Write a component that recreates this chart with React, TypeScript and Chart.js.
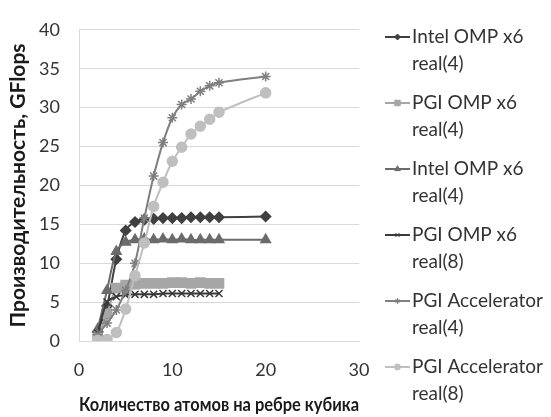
import React, { useEffect, useRef } from "react";
import { Chart, registerables } from "chart.js";
import { drawPoint } from "chart.js/helpers";

Chart.register(...registerables);

const sizesLong = [2, 3, 4, 5, 6, 7, 8, 9, 10, 11, 12, 13, 14, 15, 20];
const sizesShort = [2, 3, 4, 5, 6, 7, 8, 9, 10, 11, 12, 13, 14, 15];

const intelOmpR4 = [1.2, 4.5, 10.5, 14.2, 15.3, 15.6, 15.7, 15.8, 15.8, 15.8, 15.9, 15.9, 15.9, 15.9, 16.0];
const pgiOmpR4 = [0.5, 3.5, 6.8, 7.2, 7.3, 7.4, 7.4, 7.4, 7.5, 7.5, 7.4, 7.5, 7.4, 7.4];
const intelOmpR4b = [1.5, 6.5, 11.5, 12.7, 13.0, 13.1, 13.0, 13.1, 13.0, 13.1, 13.0, 13.0, 13.0, 13.0, 13.0];
const pgiOmpR8 = [1.0, 5.0, 5.7, 5.9, 6.0, 6.0, 6.0, 6.1, 6.1, 6.1, 6.1, 6.1, 6.1, 6.1];
const pgiAccR4 = [0.8, 2.3, 4.0, 6.5, 10.0, 15.8, 21.2, 25.5, 28.7, 30.4, 31.1, 32.1, 32.8, 33.2, 34.0];
const pgiAccR8 = [0.1, 0.2, 1.1, 4.1, 8.4, 12.6, 17.3, 20.4, 23.1, 24.9, 26.6, 27.6, 28.5, 29.4, 31.9];

const legendLines = [
  ["Intel OMP x6", "real(4)"],
  ["PGI OMP x6", "real(4)"],
  ["Intel OMP x6", "real(4)"],
  ["PGI OMP x6", "real(8)"],
  ["PGI Accelerator", "real(4)"],
  ["PGI Accelerator", "real(8)"],
];

const yTicks = [0, 5, 10, 15, 20, 25, 30, 35, 40];
const xTicks = [0, 10, 20, 30];

const yTitle = "Производительность, GFlops";
const xTitle = "Количество атомов на ребре кубика";

const FONT = "Lato, 'Open Sans', sans-serif";

function pts(xs: number[], ys: number[]) {
  return ys.map((y, i) => ({ x: xs[i], y }));
}

const sideLegend = {
  id: "sideLegend",
  afterDraw(chart: any) {
    const { ctx, chartArea } = chart;
    const x0 = chartArea.right + 26;
    chart.data.datasets.forEach((ds: any, i: number) => {
      const yc = 37 + 66 * i;
      ctx.save();
      ctx.strokeStyle = ds.borderColor;
      ctx.lineWidth = 2;
      ctx.beginPath();
      ctx.moveTo(x0, yc);
      ctx.lineTo(x0 + 25, yc);
      ctx.stroke();
      ctx.fillStyle = ds.pointBackgroundColor;
      ctx.strokeStyle = ds.pointBorderColor;
      ctx.lineWidth = 1;
      drawPoint(ctx, { pointStyle: ds.pointStyle, radius: ds.pointRadius * 0.6, rotation: 0, borderWidth: 1 } as any, x0 + 12.5, yc);
      ctx.fillStyle = "#333333";
      ctx.font = `19px ${FONT}`;
      ctx.textAlign = "left";
      ctx.textBaseline = "middle";
      const lines = legendLines[i];
      lines.forEach((t, k) => ctx.fillText(t, x0 + 27, yc + k * 26.5));
      ctx.restore();
    });
  },
};

export default function App() {
  const ref = useRef<HTMLCanvasElement>(null);
  useEffect(() => {
    const mk = (label: string, data: any, color: string, style: string, r: number, order: number) => ({
      label,
      data,
      borderColor: color,
      backgroundColor: color,
      pointBackgroundColor: color,
      pointBorderColor: color,
      pointStyle: style,
      pointRadius: r,
      pointBorderWidth: 1.5,
      borderWidth: 2,
      tension: 0.3,
      order,
    });
    const chart = new Chart(ref.current as HTMLCanvasElement, {
      type: "line",
      data: {
        datasets: [
          mk("Intel OMP x6 real(4)", pts(sizesLong, intelOmpR4), "#404040", "rectRot", 5, 5),
          mk("PGI OMP x6 real(4)", pts(sizesShort, pgiOmpR4), "#a6a6a6", "rect", 6.5, 4),
          mk("Intel OMP x6 real(4)", pts(sizesLong, intelOmpR4b), "#6b6b6b", "triangle", 5.5, 3),
          mk("PGI OMP x6 real(8)", pts(sizesShort, pgiOmpR8), "#3a3a3a", "crossRot", 5, 2),
          mk("PGI Accelerator real(4)", pts(sizesLong, pgiAccR4), "#7f7f7f", "star", 5, 1),
          mk("PGI Accelerator real(8)", pts(sizesLong, pgiAccR8), "#bfbfbf", "circle", 5, 0),
        ] as any,
      },
      options: {
        animation: false,
        responsive: true,
        maintainAspectRatio: false,
        layout: { padding: { left: 0, right: 192, top: 15, bottom: 0 } },
        plugins: { legend: { display: false }, tooltip: { enabled: false } },
        scales: {
          x: {
            type: "linear",
            min: 0,
            max: 30,
            afterFit: (s: any) => { s.height = 76; },
            afterBuildTicks: (s: any) => { s.ticks = xTicks.map((v) => ({ value: v })); },
            grid: { display: false, drawTicks: false },
            border: { display: true, color: "#d9d9d9", width: 1 },
            ticks: { padding: 18, color: "#333333", font: { family: FONT, size: 18, lineHeight: 1.2 } },
            title: {
              display: true,
              text: xTitle,
              color: "#1a1a1a",
              padding: { top: 0, bottom: 1 },
              font: { family: FONT, size: 19.5, weight: "bold", lineHeight: 1.2 },
            },
          },
          y: {
            type: "linear",
            min: 0,
            max: 40,
            afterFit: (s: any) => { s.width = 79; },
            afterBuildTicks: (s: any) => { s.ticks = yTicks.map((v) => ({ value: v })); },
            grid: { color: "#d9d9d9", lineWidth: 1, drawTicks: false },
            border: { display: true, color: "#d9d9d9", width: 1 },
            ticks: { padding: 19, color: "#333333", font: { family: FONT, size: 18, lineHeight: 1.2 } },
            title: {
              display: true,
              text: yTitle,
              color: "#1a1a1a",
              padding: { top: 6, bottom: 0 },
              font: { family: FONT, size: 21, weight: "bold", lineHeight: 1.2 },
            },
          },
        },
      },
      plugins: [sideLegend],
    } as any);
    return () => chart.destroy();
  }, []);
  return (
    <div style={{ position: "fixed", left: 0, top: 0, width: 551, height: 417, background: "#fff" }}>
      <canvas ref={ref} />
    </div>
  );
}
